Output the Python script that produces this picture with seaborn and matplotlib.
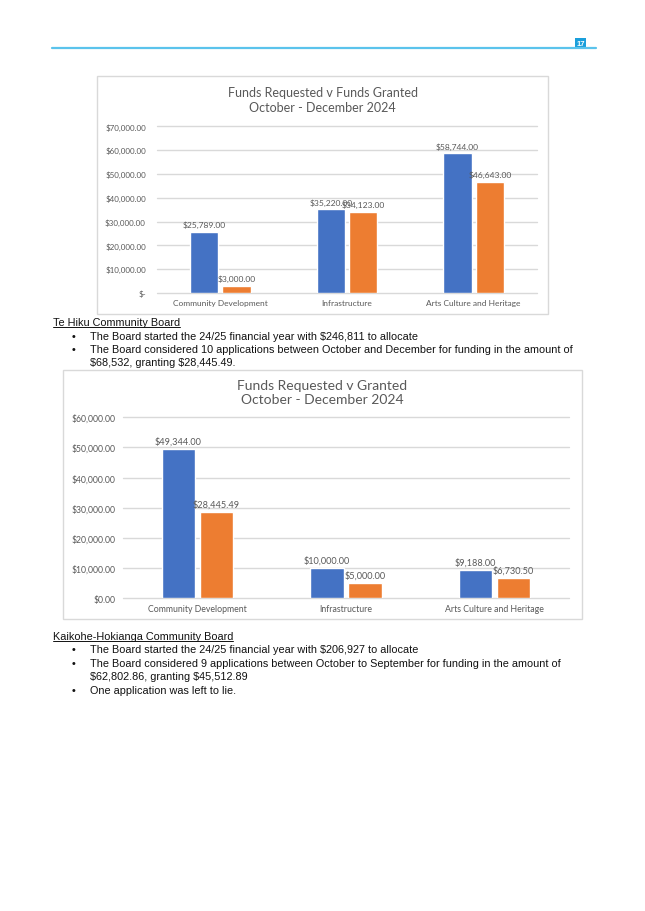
import matplotlib
matplotlib.use("Agg")
import matplotlib.pyplot as plt
import seaborn as sns
import pandas as pd
from matplotlib.patches import Rectangle
from matplotlib.lines import Line2D

# ---------------- data ----------------
categories = ["Community Development", "Infrastructure", "Arts Culture and Heritage"]
series_names = ["Requested", "Granted"]

chart1_title = "Funds Requested v Funds Granted\nOctober - December 2024"
chart1_requested = [25789.00, 35220.00, 58744.00]
chart1_granted = [3000.00, 34123.00, 46643.00]
chart1_ticks = [0, 10000, 20000, 30000, 40000, 50000, 60000, 70000]

chart2_title = "Funds Requested v Granted\nOctober - December 2024"
chart2_requested = [49344.00, 10000.00, 9188.00]
chart2_granted = [28445.49, 5000.00, 6730.50]
chart2_ticks = [0, 10000, 20000, 30000, 40000, 50000, 60000]

page_number = "17"
section1_heading = "Te Hiku Community Board"
section1_lines = [
    ("•", "The Board started the 24/25 financial year with $246,811 to allocate"),
    ("•", "The Board considered 10 applications between October and December for funding in the amount of"),
    ("", "$68,532, granting $28,445.49."),
]
section2_heading = "Kaikohe-Hokianga Community Board"
section2_lines = [
    ("•", "The Board started the 24/25 financial year with $206,927 to allocate"),
    ("•", "The Board considered 9 applications between October to September for funding in the amount of"),
    ("", "$62,802.86, granting $45,512.89"),
    ("•", "One application was left to lie."),
]

BLUE = "#4472C4"
ORANGE = "#ED7D31"
GRID = "#D9D9D9"
TXT = "#595959"

W, H = 645, 912
sns.set_theme(style="white")
plt.rcParams["font.family"] = ["Lato", "DejaVu Sans"]
plt.rcParams["text.parse_math"] = False

fig = plt.figure(figsize=(W / 100, H / 100), dpi=100)


def px_axes(x0, y0, x1, y1):
    return fig.add_axes([x0 / W, 1 - y1 / H, (x1 - x0) / W, (y1 - y0) / H])


def fmt_money(v, zero_dash):
    if v == 0:
        return "$-" if zero_dash else "$0.00"
    return "${:,.2f}".format(v)


def draw_chart(frame, plot, title, title_y, title_size, req, gra, ticks,
               zero_dash, tick_size, label_size, cat_size, ypad, xpad, lblpad):
    fx0, fy0, fx1, fy1 = frame
    fig.patches.append(Rectangle((fx0 / W, 1 - fy1 / H), (fx1 - fx0) / W, (fy1 - fy0) / H,
                                 transform=fig.transFigure, facecolor="white",
                                 edgecolor=GRID, linewidth=1.0, zorder=-5))
    ax = px_axes(*plot)
    ax.set_zorder(2)
    df = pd.DataFrame({
        "category": categories * 2,
        "series": [series_names[0]] * 3 + [series_names[1]] * 3,
        "value": list(req) + list(gra),
    })
    sns.barplot(data=df, x="category", y="value", hue="series", order=categories,
                hue_order=series_names, palette=[BLUE, ORANGE], width=0.51, gap=0.12,
                saturation=1, legend=False, ax=ax, zorder=3, errorbar=None)
    ax.set_ylim(0, ticks[-1])
    ax.set_xlim(-0.5, 2.5)
    ax.set_yticks(ticks)
    ax.set_yticklabels([fmt_money(t, zero_dash) for t in ticks])
    ax.set_xlabel("")
    ax.set_ylabel("")
    ax.set_facecolor("none")
    for s in ax.spines.values():
        s.set_visible(False)
    ax.yaxis.grid(True, color=GRID, linewidth=1.0, zorder=0)
    ax.xaxis.grid(False)
    ax.set_axisbelow(True)
    ax.tick_params(axis="y", length=0, pad=ypad, labelsize=tick_size, labelcolor=TXT)
    ax.tick_params(axis="x", length=0, pad=xpad, labelsize=cat_size, labelcolor=TXT)
    for gl in ax.get_ygridlines():
        gl.set_clip_on(False)
    for cont in ax.containers:
        ax.bar_label(cont, labels=[fmt_money(v, zero_dash) for v in cont.datavalues],
                     padding=lblpad, fontsize=label_size, color=TXT)
    fig.text(((fx0 + fx1) / 2) / W, 1 - title_y / H, title, ha="center", va="center",
             fontsize=title_size, color=TXT, linespacing=1.25)
    return ax


draw_chart(frame=(97, 77, 548, 315), plot=(157, 127.3, 537, 294), title=chart1_title,
           title_y=100.5, title_size=9.0, req=chart1_requested, gra=chart1_granted,
           ticks=chart1_ticks, zero_dash=True, tick_size=5.8, label_size=6.1, cat_size=6.0,
           ypad=8, xpad=4.5, lblpad=2.5)

draw_chart(frame=(63, 371, 582, 620), plot=(123, 418.3, 569, 599), title=chart2_title,
           title_y=393, title_size=10.0, req=chart2_requested, gra=chart2_granted,
           ticks=chart2_ticks, zero_dash=False, tick_size=6.2, label_size=6.6, cat_size=6.35,
           ypad=5.5, xpad=4.0, lblpad=2.5)

# ---------------- header ----------------
fig.add_artist(Line2D([52 / W, 596 / W], [1 - 49 / H, 1 - 49 / H], color="#5BC3EC",
                      linewidth=1.6, transform=fig.transFigure))
fig.patches.append(Rectangle((575 / W, 1 - 49 / H), 11 / W, 10 / H, transform=fig.transFigure,
                             facecolor="#1A9FDB", edgecolor="none"))
fig.text(580.5 / W, 1 - 44 / H, page_number, ha="center", va="center", fontsize=5.5,
         color="white", fontweight="bold", family=["Liberation Sans", "DejaVu Sans"])

# ---------------- body text ----------------
BODY = ["Liberation Sans", "DejaVu Sans"]
BODY_SIZE = 7.85


def heading(txt, y):
    t = fig.text(53 / W, 1 - y / H, txt, ha="left", va="center", fontsize=BODY_SIZE,
                 color="#111111", family=BODY)
    return t


def bullets(lines, y0, step):
    for i, (b, txt) in enumerate(lines):
        y = y0 + i * step
        if b:
            fig.text(74 / W, 1 - y / H, b, ha="center", va="center", fontsize=BODY_SIZE,
                     color="#111111", family=BODY)
        fig.text(90 / W, 1 - y / H, txt, ha="left", va="center", fontsize=BODY_SIZE,
                 color="#111111", family=BODY)


h1 = heading(section1_heading, 323)
bullets(section1_lines, 336.5, 13.5)
h2 = heading(section2_heading, 637)
bullets(section2_lines, 650.5, 13.5)

fig.canvas.draw()
r = fig.canvas.get_renderer()
for h in (h1, h2):
    bb = h.get_window_extent(r)
    yl = bb.y0 + 0.5
    fig.add_artist(Line2D([bb.x0 / W, bb.x1 / W], [yl / H, yl / H], color="#111111",
                          linewidth=0.7, transform=fig.transFigure))

fig.savefig("out.png", dpi=100, facecolor="white")
